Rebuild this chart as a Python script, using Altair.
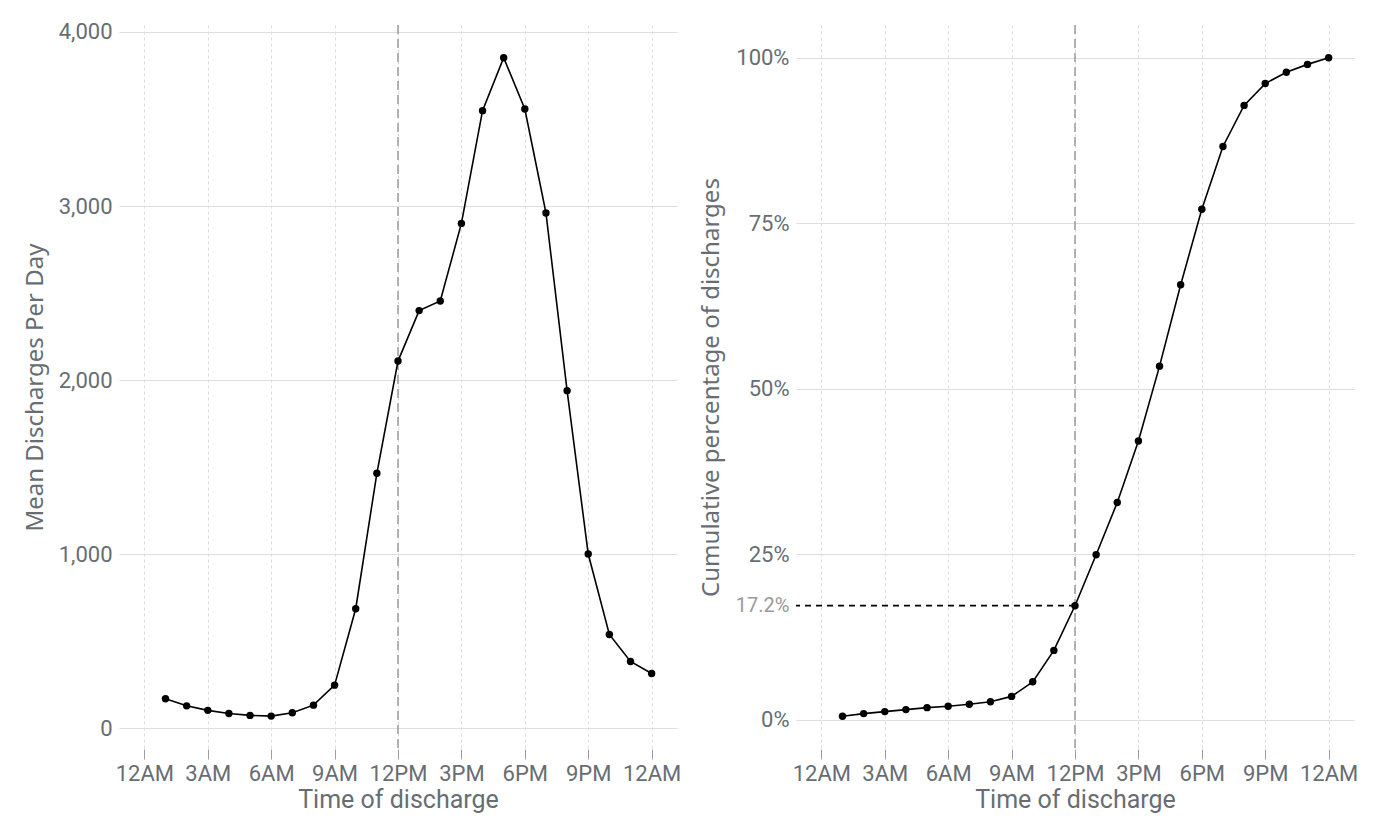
import altair as alt
import pandas as pd

hours = list(range(1, 25))
mean_discharges = [169, 128, 102, 84, 73, 69, 88, 132, 247, 686, 1464, 2109,
                   2399, 2454, 2900, 3548, 3852, 3557, 2960, 1939, 1000, 538, 383, 314]
cum_pct = [0.5, 0.9, 1.2, 1.5, 1.8, 2.0, 2.3, 2.7, 3.5, 5.7, 10.45, 17.2,
           24.9, 32.8, 42.1, 53.4, 65.7, 77.1, 86.6, 92.8, 96.1, 97.8, 99.0, 100.0]
tick_hours = [0, 3, 6, 9, 12, 15, 18, 21, 24]
tick_labels = ["12AM", "3AM", "6AM", "9AM", "12PM", "3PM", "6PM", "9PM", "12AM"]
noon = [12]
noon_pct = [17.2]

df = pd.DataFrame({"hour": hours, "mean": mean_discharges, "cum": cum_pct})
noon_df = pd.DataFrame({"hour": noon})
thr_df = pd.DataFrame({"hour": noon, "pct": noon_pct})

TXT = "#676d73"
TICKFONT = "Roboto"
label_js = "[" + ",".join("'%s'" % s for s in tick_labels) + "]"

def x_enc():
    return alt.X(
        "hour:Q",
        scale=alt.Scale(domain=[-1.2, 25.2], nice=False, zero=False),
        axis=alt.Axis(
            values=tick_hours,
            labelExpr=label_js + "[round(datum.value/3)]",
            title="Time of discharge",
            grid=True, gridDash=[3, 3], gridColor="#dcdcdc", gridWidth=1,
            ticks=True, tickSize=10, tickColor="#a0a0a0", tickWidth=1,
            domain=False,
            labelFont=TICKFONT, labelFontSize=22, labelColor=TXT, labelPadding=4,
            titleFont=TICKFONT, titleFontSize=25, titleColor=TXT, titleFontWeight="normal",
            titlePadding=3,
        ),
    )

W, H = 558, 724

# Left panel
y_left = alt.Y(
    "mean:Q",
    scale=alt.Scale(domain=[-120, 4040], nice=False, zero=False),
    axis=alt.Axis(
        values=[0, 1000, 2000, 3000, 4000], format=",.0f",
        title="Mean Discharges Per Day",
        grid=True, gridColor="#dedede", gridWidth=1,
        ticks=False, domain=False,
        labelFont=TICKFONT, labelFontSize=22, labelColor=TXT, labelPadding=7,
        titleFont="Noto Sans", titleFontSize=24, titleColor=TXT, titleFontWeight="normal",
        titlePadding=11,
    ),
)

base_l = alt.Chart(df)
line_l = base_l.mark_line(color="black", strokeWidth=1.6).encode(x=x_enc(), y=y_left)
pts_l = base_l.mark_point(filled=True, color="black", size=55, opacity=1).encode(x=x_enc(), y=y_left)
noon_l = alt.Chart(noon_df).mark_rule(color="#9a9a9a", strokeDash=[9, 5], strokeWidth=1.5).encode(
    x=alt.X("hour:Q"))
left = alt.layer(noon_l, line_l, pts_l).properties(width=W, height=H)

# Right panel
y_right = alt.Y(
    "cum:Q",
    scale=alt.Scale(domain=[-4.45, 104.95], nice=False, zero=False),
    axis=alt.Axis(
        values=[0, 17.2, 25, 50, 75, 100],
        labelExpr="datum.value + '%'",
        title="Cumulative percentage of discharges",
        grid=True, gridColor="#dedede", gridWidth=1,
        gridOpacity={"condition": {"test": "datum.value == 17.2", "value": 0}, "value": 1},
        ticks=False, domain=False,
        labelFont=TICKFONT,
        labelFontSize={"condition": {"test": "datum.value == 17.2", "value": 20}, "value": 22},
        labelColor={"condition": {"test": "datum.value == 17.2", "value": "#9a9a9a"}, "value": TXT},
        labelPadding=7,
        titleFont="Noto Sans", titleFontSize=24, titleColor=TXT, titleFontWeight="normal",
        titlePadding=12,
    ),
)

base_r = alt.Chart(df)
line_r = base_r.mark_line(color="black", strokeWidth=1.6).encode(x=x_enc(), y=y_right)
pts_r = base_r.mark_point(filled=True, color="black", size=55, opacity=1).encode(x=x_enc(), y=y_right)
noon_r = alt.Chart(noon_df).mark_rule(color="#9a9a9a", strokeDash=[9, 5], strokeWidth=1.5).encode(
    x=alt.X("hour:Q"))
thr_r = alt.Chart(thr_df).mark_rule(color="black", strokeDash=[6, 5], strokeWidth=1.8).encode(
    x=alt.X("hour:Q"), x2=alt.value(0), y=alt.Y("pct:Q"))
right = alt.layer(noon_r, thr_r, line_r, pts_r).properties(width=W, height=H)

chart = alt.hconcat(left, right, spacing=18).properties(
    padding={"left": 15, "top": 12, "right": 5, "bottom": 5},
    background="white",
).configure_view(stroke=None)

chart.save("out.html", embed_options={"renderer": "svg", "actions": False})
